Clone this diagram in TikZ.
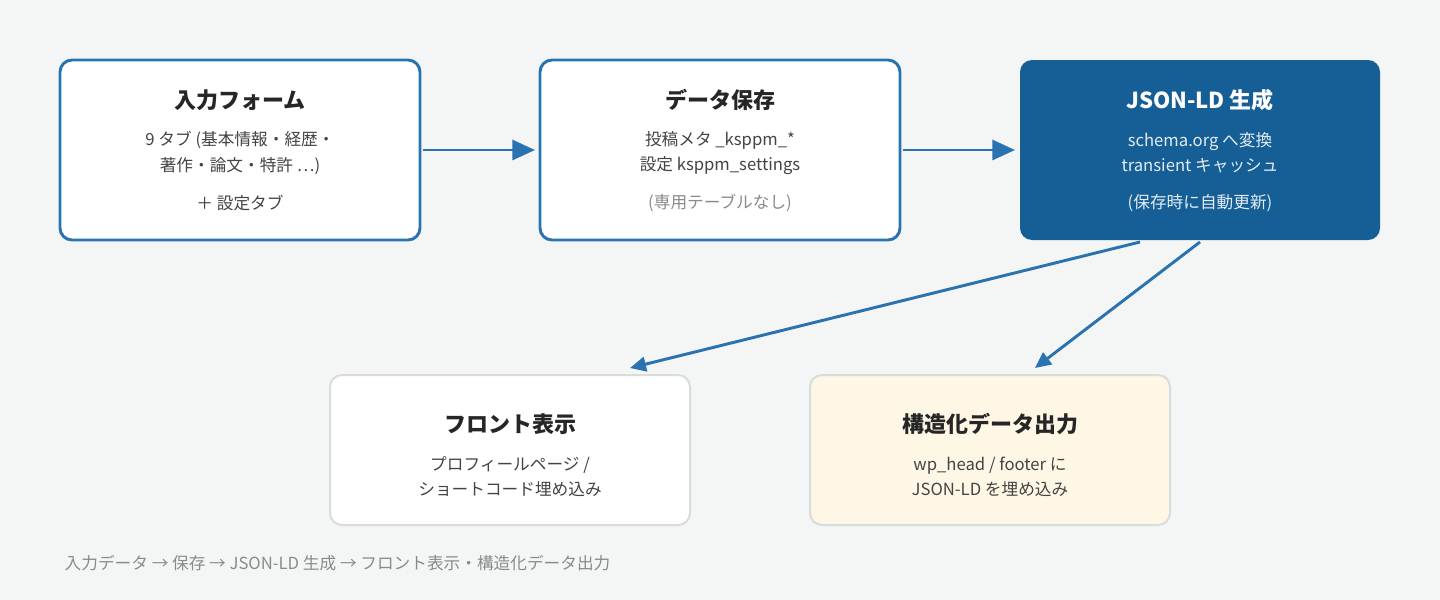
\documentclass[tikz,border=0pt]{standalone}
\usepackage{fontspec}
\setmainfont{Noto Sans CJK JP}
\usetikzlibrary{arrows.meta}
\definecolor{bg}{HTML}{F4F6F6}
\definecolor{blu}{HTML}{2A72B0}
\definecolor{dblu}{HTML}{165F96}
\definecolor{cream}{HTML}{FEF7E6}
\definecolor{gborder}{HTML}{D9DCDC}
\definecolor{txt}{HTML}{444444}
\definecolor{gtxt}{HTML}{8A8A8A}
\tikzset{
  box/.style={rounded corners=9pt, line width=2.2pt, draw=blu, fill=white},
  lbox/.style={rounded corners=9pt, line width=1.5pt, draw=gborder},
  ttl/.style={font=\fontsize{16.5}{20}\selectfont\bfseries, text=black!85},
  body/.style={font=\fontsize{12.5}{19}\selectfont, text=txt, align=center},
  arr/.style={line width=2.2pt, draw=blu, -{Triangle[length=17pt,width=15pt]}},
  arrs/.style={line width=2.2pt, draw=blu, -{Triangle[length=12pt,width=11pt]}}
}
\begin{document}
\begin{tikzpicture}[x=0.75pt,y=-0.75pt]
\fill[bg] (0,0) rectangle (1440,600);
\useasboundingbox (0,0) rectangle (1440,600);
\draw[box] (60,60) rectangle (420,240);
\draw[box] (540,60) rectangle (900,240);
\fill[dblu, rounded corners=9pt] (1020,60) rectangle (1380,240);
\draw[lbox, fill=white] (330,375) rectangle (690,525);
\draw[lbox, fill=cream] (810,375) rectangle (1170,525);
\node[ttl] (t1) at (240,100) {入力フォーム};
\node[body] (b1) at (240,153) {9 タブ (基本情報・経歴・\\著作・論文・特許 …)};
\node[body] (c1) at (240,203) {＋ 設定タブ};
\node[ttl] (t2) at (720,100) {データ保存};
\node[body] (b2) at (720,153) {投稿メタ \_ksppm\_*\\設定 ksppm\_settings};
\node[body, text=gtxt] (c2) at (720,203) {(専用テーブルなし)};
\node[ttl, text=white] (t3) at (1200,100) {JSON-LD 生成};
\node[body, text=white!88!dblu] (b3) at (1200,153) {schema.org へ変換\\transient キャッシュ};
\node[body, text=white!88!dblu] (c3) at (1200,203) {(保存時に自動更新)};
\node[ttl] (t4) at (510,424) {フロント表示};
\node[body] (b4) at (510,477) {プロフィールページ /\\ショートコード埋め込み};
\node[ttl] (t5) at (990,424) {構造化データ出力};
\node[body] (b5) at (990,477) {wp\_head / footer に\\JSON-LD を埋め込み};
\coordinate (a1s) at (423,150); \coordinate (a1e) at (535,150);
\coordinate (a2s) at (903,150); \coordinate (a2e) at (1015,150);
\coordinate (a3s) at (1140,242); \coordinate (a3e) at (630,368);
\coordinate (a4s) at (1200,242); \coordinate (a4e) at (1035,368);
\draw[arr] (a1s) -- (a1e);
\draw[arr] (a2s) -- (a2e);
\draw[arrs] (a3s) -- (a3e);
\draw[arrs] (a4s) -- (a4e);
\node[anchor=west, font=\fontsize{12.5}{15}\selectfont, text=gtxt] (foot) at (60,563) {入力データ → 保存 → JSON-LD 生成 → フロント表示・構造化データ出力};
\end{tikzpicture}
\end{document}
